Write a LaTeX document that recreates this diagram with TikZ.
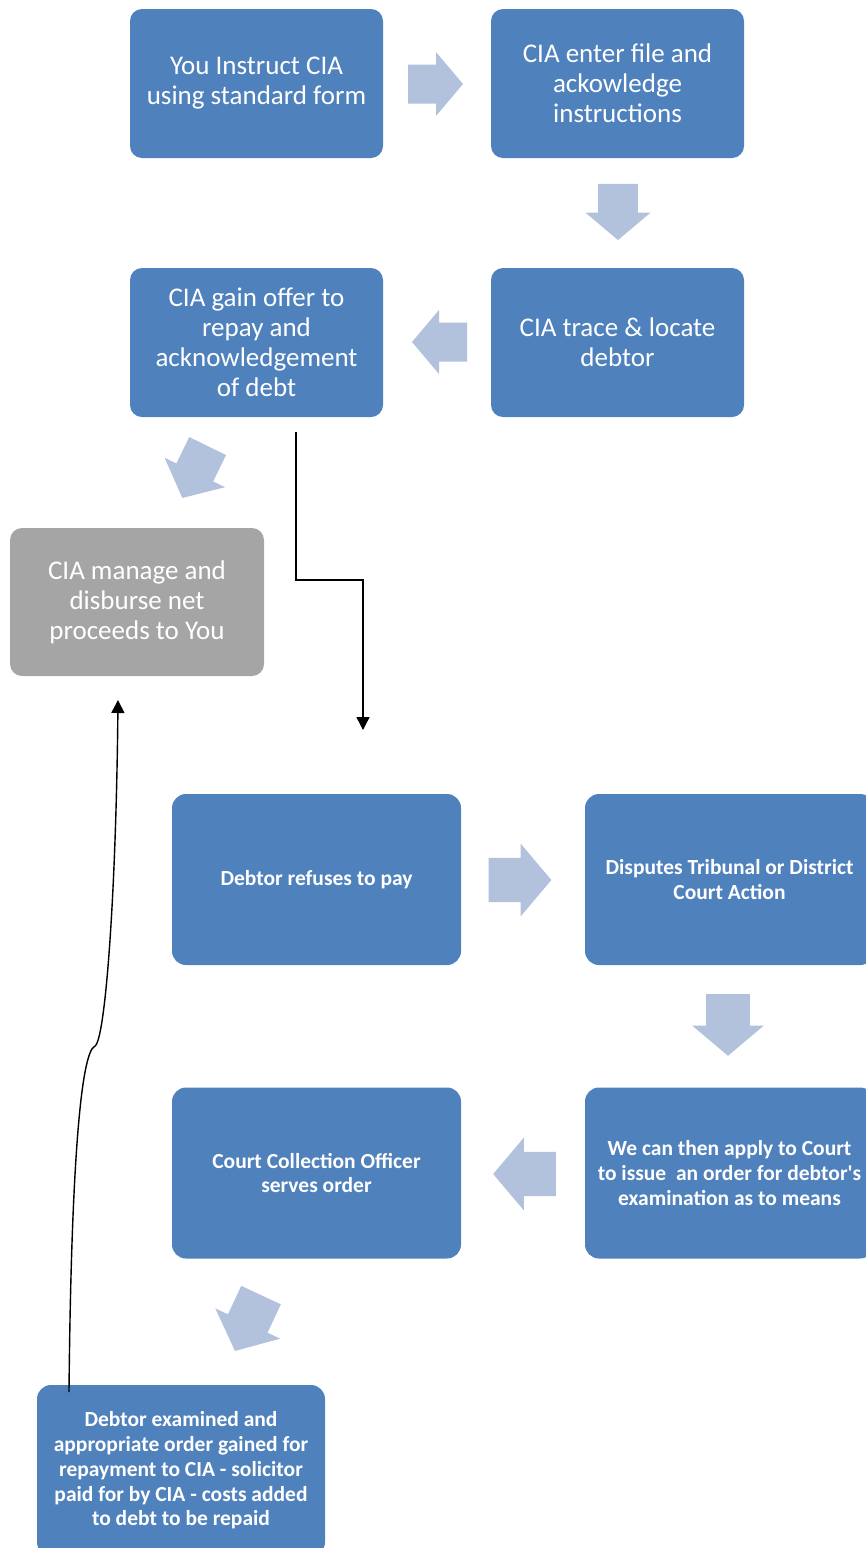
\documentclass[tikz,border=0pt]{standalone}
\usepackage{fontspec}
\setmainfont{Carlito}
\usepackage{tikz}
\usetikzlibrary{arrows.meta}
\definecolor{boxblue}{RGB}{79,129,189}
\definecolor{boxgrey}{RGB}{165,165,165}
\definecolor{arrowblue}{RGB}{178,193,220}
\tikzset{stepbox/.style={rectangle, rounded corners=12pt, fill=boxblue, text=white, align=center, inner sep=0pt, minimum width=253pt, minimum height=149pt, font=\fontsize{27}{30}\selectfont}}
\tikzset{lowbox/.style={stepbox, rounded corners=14pt, minimum width=289pt, minimum height=171pt, font=\fontsize{21.5}{24.7}\selectfont\bfseries}}
\tikzset{greybox/.style={stepbox, fill=boxgrey}}
\tikzset{blockarrow/.style={fill=arrowblue, draw=none}}
\tikzset{link/.style={line width=1.4pt, -{Triangle[width=13pt,length=13pt]}}}
% #1,#2 centre, #3 direction, #4 size
\newcommand{\flowarrow}[4]{
\begin{scope}[shift={(#1,#2)}, rotate=#3, scale=#4]
\fill[blockarrow] (-27.5,-19.5) -- (0.5,-19.5) -- (0.5,-32) -- (27.5,0) -- (0.5,32) -- (0.5,19.5) -- (-27.5,19.5) -- cycle;
\end{scope}}

\begin{document}
\begin{tikzpicture}[x=1pt,y=-1pt]
\useasboundingbox (0,0) rectangle (866,1548);
\clip (0,0) rectangle (866,1548);

\node[stepbox] (1) at (256.5,83.5) {You Instruct CIA\\using standard form};
\node[stepbox] (2) at (617.5,83.5) {CIA enter file and\\ackowledge\\instructions};
\node[stepbox] (3) at (617.5,342.5) {CIA trace \& locate\\debtor};
\node[stepbox] (4) at (256.5,342.5) {CIA gain offer to\\repay and\\acknowledgement\\of debt};
\node[greybox, minimum width=254pt, minimum height=148pt] (5) at (137,602) {CIA manage and\\disburse net\\proceeds to You};

\node[lowbox] (6) at (316.5,879.5) {Debtor refuses to pay};
\node[lowbox] (7) at (729.5,879.5) {Disputes Tribunal or District\\Court Action};
\node[lowbox] (8) at (729.5,1173) {We can then apply to Court\\to issue\ \ an order for debtor\textquotesingle s\\examination as to means};
\node[lowbox] (9) at (316.5,1173) {Court Collection Officer\\serves order};
\node[lowbox, minimum width=288pt] (10) at (181,1470.5) {Debtor examined and\\appropriate order gained for\\repayment to CIA - solicitor\\paid for by CIA - costs added\\to debt to be repaid};

%\flowarrow{x}{y}{angle}{size}
\flowarrow{435.5}{84}{0}{1}
\flowarrow{618}{212}{-90}{1.02}
\flowarrow{439.5}{342}{180}{1}
\flowarrow{195}{472}{244}{1.05}
\flowarrow{520}{880}{0}{1.14}
\flowarrow{728}{1025}{-90}{1.12}
\flowarrow{524.5}{1174}{180}{1.14}
\flowarrow{248}{1323}{245}{1.12}

\coordinate (a) at (296,432);
\coordinate (b) at (363,730);
\draw[link] (a) -- ++(0,148) -| (b);

\coordinate (c) at (69,1392);
\coordinate (k) at (95,1046);
\coordinate (d) at (118,700);
\draw[link] (c) .. controls (71,1180) and (80,1052) .. (k) .. controls (105,1040) and (116,900) .. (d);
\end{tikzpicture}
\end{document}
